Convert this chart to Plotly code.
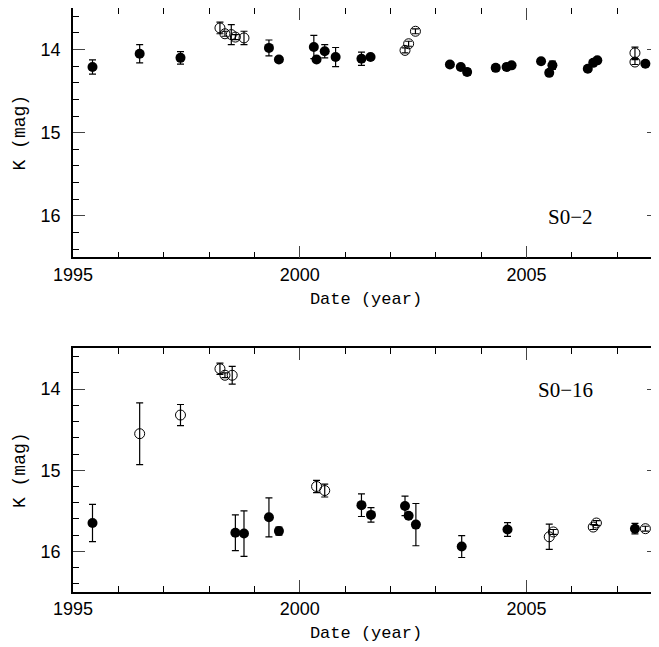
import plotly.graph_objects as go
from plotly.subplots import make_subplots

# S0-2, filled points (year, K mag, error)
s02_fill_t = [1995.43, 1996.47, 1997.37, 1999.32, 1999.54, 2000.31, 2000.37, 2000.55, 2000.79,
              2001.36, 2001.56, 2003.31, 2003.55, 2003.69, 2004.32, 2004.56, 2004.67,
              2005.32, 2005.50, 2005.57, 2006.35, 2006.47, 2006.56, 2007.62]
s02_fill_k = [14.21, 14.05, 14.10, 13.98, 14.12, 13.97, 14.12, 14.02, 14.09,
              14.11, 14.09, 14.18, 14.21, 14.27, 14.22, 14.21, 14.19,
              14.14, 14.28, 14.19, 14.23, 14.16, 14.13, 14.17]
s02_fill_e = [0.085, 0.11, 0.075, 0.095, 0.03, 0.14, 0.03, 0.08, 0.115,
              0.08, 0.03, 0.03, 0.03, 0.04, 0.04, 0.04, 0.03,
              0.03, 0.03, 0.05, 0.03, 0.03, 0.03, 0.03]
# S0-2, open points
s02_open_t = [1998.24, 1998.35, 1998.49, 1998.58, 1998.77, 2002.32, 2002.40, 2002.55, 2007.39, 2007.39]
s02_open_k = [13.74, 13.81, 13.82, 13.85, 13.86, 14.01, 13.93, 13.78, 14.04, 14.15]
s02_open_e = [0.07, 0.03, 0.12, 0.03, 0.08, 0.03, 0.03, 0.03, 0.07, 0.03]

# S0-16, filled points
s016_fill_t = [1995.43, 1998.58, 1998.77, 1999.32, 1999.54, 2001.36, 2001.57,
               2002.32, 2002.40, 2002.56, 2003.57, 2004.58, 2007.39]
s016_fill_k = [15.65, 15.77, 15.78, 15.58, 15.75, 15.43, 15.55,
               15.44, 15.56, 15.67, 15.94, 15.73, 15.72]
s016_fill_e = [0.23, 0.22, 0.28, 0.24, 0.05, 0.14, 0.09,
               0.12, 0.03, 0.26, 0.135, 0.085, 0.065]
# S0-16, open points
s016_open_t = [1996.47, 1997.37, 1998.24, 1998.35, 1998.51, 2000.37, 2000.55,
               2005.50, 2005.59, 2006.47, 2006.54, 2007.62]
s016_open_k = [14.55, 14.32, 13.75, 13.83, 13.83, 15.20, 15.25,
               15.82, 15.76, 15.70, 15.65, 15.72]
s016_open_e = [0.38, 0.13, 0.07, 0.03, 0.11, 0.075, 0.08,
               0.155, 0.03, 0.03, 0.03, 0.03]

panels = [
    ("S0\u22122", s02_fill_t, s02_fill_k, s02_fill_e, s02_open_t, s02_open_k, s02_open_e, 0.642),
    ("S0\u221216", s016_fill_t, s016_fill_k, s016_fill_e, s016_open_t, s016_open_k, s016_open_e, 0.346),
]

# page body adds an 8px offset, so the figure is 8px smaller than the window
W, H = 651, 639

fig = make_subplots(rows=2, cols=1, vertical_spacing=0.156)

for i, (name, ft, fk, fe, ot, ok, oe, ly) in enumerate(panels, start=1):
    fig.add_trace(go.Scatter(
        x=ft, y=fk, mode="markers",
        marker=dict(symbol="circle", size=10, color="black"),
        error_y=dict(type="data", array=fe, color="black", thickness=1.2, width=3.5),
        showlegend=False), row=i, col=1)
    fig.add_trace(go.Scatter(
        x=ot, y=ok, mode="markers",
        marker=dict(symbol="circle-open", size=10, color="black", line=dict(width=1)),
        error_y=dict(type="data", array=oe, color="black", thickness=1.2, width=3.5),
        showlegend=False), row=i, col=1)
    fig.add_annotation(text=name, x=0.891, y=ly, xref="paper", yref="paper", showarrow=False,
                       font=dict(family="Liberation Serif", size=21, color="black"))

fig.update_layout(
    width=W, height=H,
    margin=dict(l=65, r=0, t=0, b=55),
    paper_bgcolor="white", plot_bgcolor="white",
    font=dict(family="Liberation Sans", size=18, color="black"),
)
fig.layout.yaxis.domain = [0.573, 1.0]
fig.layout.yaxis2.domain = [0.0, 0.417]

fig.update_xaxes(
    range=[1995, 2007.92], tickvals=[1995, 2000, 2005], ticks="inside", ticklen=12,
    tickwidth=1.3, showline=True, linewidth=1.6, linecolor="black", mirror="ticks",
    showgrid=False, zeroline=False, automargin=False,
    minor=dict(dtick=1, ticks="inside", ticklen=6, tickwidth=1.1, tickcolor="black"),
    title=dict(text="Date (year)", font=dict(family="Liberation Mono", size=17), standoff=8),
)
fig.update_yaxes(
    range=[16.5, 13.5], tickvals=[14, 15, 16], ticks="inside", ticklen=12,
    tickwidth=1.3, showline=True, linewidth=1.6, linecolor="black", mirror="ticks",
    showgrid=False, zeroline=False, automargin=False, ticklabelstandoff=7,
    minor=dict(dtick=0.2, ticks="inside", ticklen=6, tickwidth=1.1, tickcolor="black"),
    title=dict(text="K (mag)", font=dict(family="Liberation Mono", size=18), standoff=10),
)

fig.write_html("out.html")
